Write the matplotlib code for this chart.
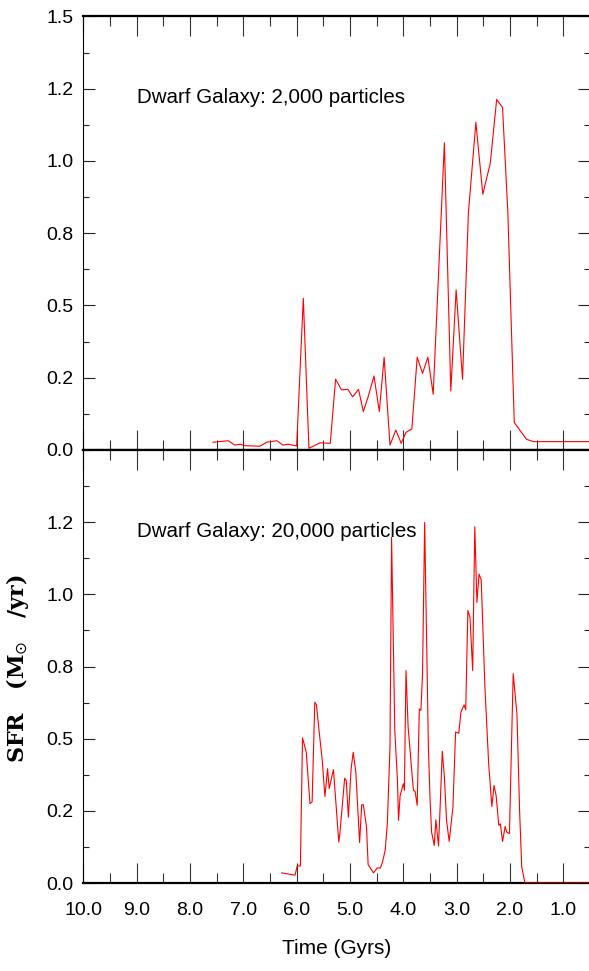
import matplotlib
matplotlib.use("Agg")
import matplotlib.pyplot as plt
from matplotlib import font_manager as fm
from matplotlib.ticker import MultipleLocator, FixedLocator, FixedFormatter

# ---------------- data ----------------
top_x = [7.57, 7.28, 7.16, 7.06, 6.97, 6.69, 6.56, 6.37, 6.26, 6.16, 6.00, 5.875, 5.77, 5.56,
         5.37, 5.27, 5.16, 5.04, 4.95, 4.84, 4.75, 4.66, 4.55, 4.45, 4.36, 4.25, 4.14, 4.04,
         3.95, 3.84, 3.74, 3.64, 3.54, 3.44, 3.23, 3.11, 3.01, 2.89, 2.78, 2.64, 2.51, 2.37,
         2.25, 2.14, 2.04, 1.92, 1.69, 1.56, 0.5]
top_y = [0.027, 0.032, 0.017, 0.020, 0.015, 0.013, 0.027, 0.032, 0.017, 0.020, 0.014, 0.525,
         0.006, 0.025, 0.023, 0.245, 0.208, 0.21, 0.184, 0.21, 0.133, 0.184, 0.256, 0.133,
         0.321, 0.017, 0.069, 0.023, 0.061, 0.073, 0.321, 0.265, 0.321, 0.193, 1.063, 0.204,
         0.554, 0.245, 0.82, 1.134, 0.885, 0.992, 1.213, 1.185, 0.82, 0.095, 0.037, 0.029, 0.029]

bot_x = [6.28, 6.03, 5.99, 5.93, 5.89, 5.82, 5.75, 5.71, 5.66, 5.63, 5.57, 5.52, 5.47, 5.42,
         5.39, 5.31, 5.21, 5.19, 5.10, 5.07, 5.03, 4.98, 4.94, 4.89, 4.82, 4.78, 4.75, 4.69,
         4.66, 4.56, 4.49, 4.43, 4.39, 4.34, 4.30, 4.25, 4.22, 4.16, 4.11, 4.09, 4.06, 4.00,
         3.98, 3.95, 3.91, 3.84, 3.81, 3.78, 3.74, 3.70, 3.67, 3.64, 3.60, 3.53, 3.50, 3.47,
         3.42, 3.39, 3.34, 3.31, 3.27, 3.23, 3.19, 3.14, 3.07, 3.02, 2.96, 2.92, 2.86, 2.83,
         2.79, 2.75, 2.70, 2.66, 2.62, 2.58, 2.54, 2.47, 2.40, 2.34, 2.30, 2.26, 2.21, 2.18,
         2.14, 2.09, 2.06, 2.01, 1.98, 1.94, 1.87, 1.82, 1.78, 1.72, 0.5]
bot_y = [0.035, 0.027, 0.059, 0.059, 0.503, 0.453, 0.275, 0.281, 0.626, 0.618, 0.511, 0.425,
         0.30, 0.396, 0.327, 0.393, 0.142, 0.171, 0.363, 0.355, 0.228, 0.393, 0.453, 0.383,
         0.14, 0.271, 0.271, 0.194, 0.064, 0.035, 0.052, 0.052, 0.073, 0.113, 0.205, 0.47,
         1.197, 0.528, 0.355, 0.217, 0.303, 0.344, 0.321, 0.736, 0.54, 0.384, 0.32, 0.318,
         0.269, 0.603, 0.598, 0.725, 1.249, 0.47, 0.298, 0.176, 0.13, 0.219, 0.128, 0.263,
         0.456, 0.367, 0.217, 0.144, 0.263, 0.523, 0.519, 0.592, 0.617, 0.6, 0.944, 0.92,
         0.736, 1.234, 0.972, 1.07, 1.05, 0.678, 0.413, 0.265, 0.338, 0.303, 0.2, 0.205,
         0.144, 0.196, 0.176, 0.171, 0.413, 0.725, 0.586, 0.25, 0.055, 0.0, 0.0]

x_ticks = [10.0, 9.0, 8.0, 7.0, 6.0, 5.0, 4.0, 3.0, 2.0, 1.0]
x_ticklabels = ["10.0", "9.0", "8.0", "7.0", "6.0", "5.0", "4.0", "3.0", "2.0", "1.0"]
y_ticks_top = [0.0, 0.25, 0.5, 0.75, 1.0, 1.25, 1.5]
y_ticklabels_top = ["0.0", "0.2", "0.5", "0.8", "1.0", "1.2", "1.5"]
y_ticks_bot = [0.0, 0.25, 0.5, 0.75, 1.0, 1.25]
y_ticklabels_bot = ["0.0", "0.2", "0.5", "0.8", "1.0", "1.2"]
label_top = "Dwarf Galaxy: 2,000 particles"
label_bot = "Dwarf Galaxy: 20,000 particles"

# ---------------- fonts ----------------
avail = {f.name for f in fm.fontManager.ttflist}
if "Liberation Sans Narrow" in avail:
    FONT = "Liberation Sans Narrow"
    k = 1.0
else:
    FONT = "Liberation Sans"
    k = 0.82

W, H = 589, 971
fig = plt.figure(figsize=(W / 100, H / 100), dpi=100)

ax_left = 83.3 / W
ax_w = 506.7 / W
y0_top, y1_top = 450.0, 16.5
y0_bot, y1_bot = 883.0, 450.0
ax_top = fig.add_axes([ax_left, (H - y0_top) / H, ax_w, (y0_top - y1_top) / H])
ax_bot = fig.add_axes([ax_left, (H - y0_bot) / H, ax_w, (y0_bot - y1_bot) / H])

RED = "#ff0000"
ax_top.plot(top_x, top_y, color=RED, lw=0.8, zorder=3)
ax_bot.plot(bot_x, bot_y, color=RED, lw=0.8, zorder=3)

tick_fs = 14.0
for ax, yt, ytl in [(ax_top, y_ticks_top, y_ticklabels_top),
                    (ax_bot, y_ticks_bot, y_ticklabels_bot)]:
    ax.set_xlim(10.0, 0.5)
    ax.set_ylim(0.0, 1.5)
    ax.xaxis.set_major_locator(FixedLocator(x_ticks))
    ax.xaxis.set_minor_locator(MultipleLocator(0.5))
    ax.yaxis.set_major_locator(FixedLocator(yt))
    ax.yaxis.set_major_formatter(FixedFormatter(ytl))
    ax.yaxis.set_minor_locator(MultipleLocator(0.125))
    ax.tick_params(axis="x", which="major", direction="in", length=14.4, width=0.8,
                   color="#333333", top=True, bottom=True)
    ax.tick_params(axis="x", which="minor", direction="in", length=7.2, width=0.8,
                   color="#333333", top=True, bottom=True)
    ax.tick_params(axis="y", which="major", direction="in", length=8.6, width=0.8,
                   color="#222222", left=True, right=True, pad=7, labelsize=tick_fs)
    ax.tick_params(axis="y", which="minor", direction="in", length=4.3, width=0.8,
                   color="#222222", left=True, right=True)
    for lab in ax.get_yticklabels():
        lab.set_fontfamily(FONT)
        lab.set_fontsize(tick_fs)
    ax.spines["top"].set_linewidth(1.6)
    ax.spines["bottom"].set_linewidth(1.6)
    ax.spines["left"].set_linewidth(0.8)
    ax.spines["right"].set_linewidth(0.8)

ax_top.tick_params(axis="x", labelbottom=False)
ax_bot.set_xticks(x_ticks)
ax_bot.set_xticklabels(x_ticklabels, fontfamily=FONT, fontsize=tick_fs)
ax_bot.tick_params(axis="x", which="major", pad=14)

ann_fs = 18 * k
ax_top.text(9.0, 1.20, label_top, ha="left", va="baseline", fontfamily=FONT, fontsize=ann_fs)
ax_bot.text(9.0, 1.20, label_bot, ha="left", va="baseline", fontfamily=FONT, fontsize=ann_fs)

ax_bot.set_xlabel("Time (Gyrs)", fontfamily=FONT, fontsize=15, labelpad=14)

fig.text(18 / W, (H - 668) / H, r"SFR   (M$_{\odot}$   /yr)", rotation=90,
         ha="center", va="center", fontfamily="DejaVu Serif", fontweight="bold", fontsize=16)

fig.savefig("out.png", dpi=100)
